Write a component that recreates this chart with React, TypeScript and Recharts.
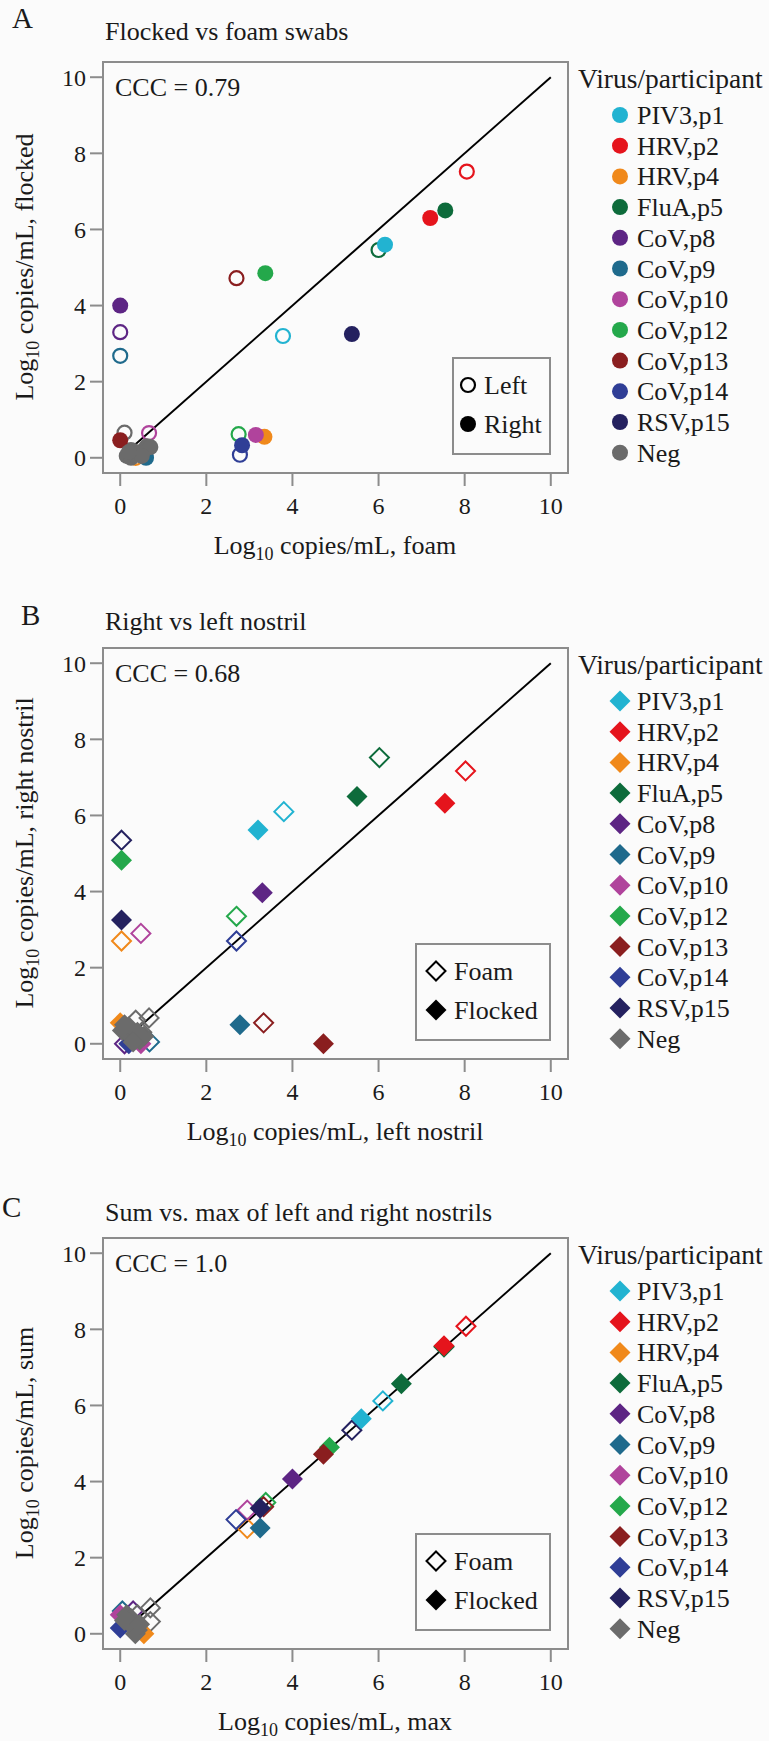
import { ScatterChart, Scatter, XAxis, YAxis, ReferenceLine, ReferenceArea } from 'recharts';

const FONT = "'Liberation Serif', 'Times New Roman', serif";
const INK = '#1a1a1a';
const FRAME = '#8c8c8c';
const BG = '#fbfbfb';

// legend order = drawing order (Neg last, so it sits on top of the cluster near 0)
const GROUPS = [
    'PIV3,p1', 'HRV,p2', 'HRV,p4', 'FluA,p5', 'CoV,p8', 'CoV,p9',
    'CoV,p10', 'CoV,p12', 'CoV,p13', 'CoV,p14', 'RSV,p15', 'Neg',
];
const COLORS = [
    '#22b3d1', '#e5141c', '#f0891b', '#0d6b3b', '#5d2584', '#1f6a8c',
    '#b0439c', '#24a84b', '#8a1e1f', '#2f3e96', '#24215f', '#6b6b6b',
];
const AXIS_TICKS = [0, 2, 4, 6, 8, 10];

type Pt = [string, number, number];

// A: x = foam, y = flocked
const foamFlockedLeft: Pt[] = [
    ['PIV3,p1', 3.78, 3.2], ['HRV,p2', 8.05, 7.52], ['HRV,p4', 0.36, 0.0],
    ['FluA,p5', 6.0, 5.46], ['CoV,p8', 0.0, 3.3], ['CoV,p9', 0.0, 2.68],
    ['CoV,p10', 0.67, 0.65], ['CoV,p12', 2.75, 0.62], ['CoV,p13', 2.7, 4.72],
    ['CoV,p14', 2.78, 0.08], ['RSV,p15', 0.3, 0.1],
    ['Neg', 0.1, 0.66], ['Neg', 0.25, 0.2], ['Neg', 0.45, 0.1], ['Neg', 0.6, 0.25],
];
const foamFlockedRight: Pt[] = [
    ['PIV3,p1', 6.15, 5.6], ['HRV,p2', 7.2, 6.3], ['HRV,p4', 3.35, 0.55],
    ['FluA,p5', 7.55, 6.5], ['CoV,p8', 0.0, 4.0], ['CoV,p9', 0.6, 0.0],
    ['CoV,p10', 3.15, 0.6], ['CoV,p12', 3.37, 4.85], ['CoV,p13', 0.0, 0.46],
    ['CoV,p14', 2.83, 0.33], ['RSV,p15', 5.38, 3.25],
    ['Neg', 0.15, 0.05], ['Neg', 0.25, 0.0], ['Neg', 0.35, 0.08], ['Neg', 0.45, 0.12],
    ['Neg', 0.55, 0.2], ['Neg', 0.62, 0.3], ['Neg', 0.7, 0.28], ['Neg', 0.3, 0.18],
    ['Neg', 0.5, 0.05], ['Neg', 0.2, 0.15],
];

// B: x = left nostril, y = right nostril
const leftRightFoam: Pt[] = [
    ['PIV3,p1', 3.8, 6.1], ['HRV,p2', 8.02, 7.17], ['HRV,p4', 0.03, 2.7],
    ['FluA,p5', 6.02, 7.52], ['CoV,p8', 0.1, 0.0], ['CoV,p9', 0.68, 0.05],
    ['CoV,p10', 0.48, 2.9], ['CoV,p12', 2.7, 3.35], ['CoV,p13', 3.33, 0.55],
    ['CoV,p14', 2.7, 2.7], ['RSV,p15', 0.03, 5.35],
    ['Neg', 0.36, 0.62], ['Neg', 0.67, 0.68], ['Neg', 0.5, 0.3],
];
const leftRightFlocked: Pt[] = [
    ['PIV3,p1', 3.2, 5.62], ['HRV,p2', 7.54, 6.32], ['HRV,p4', 0.0, 0.55],
    ['FluA,p5', 5.5, 6.5], ['CoV,p8', 3.3, 3.97], ['CoV,p9', 2.78, 0.5],
    ['CoV,p10', 0.48, 0.0], ['CoV,p12', 0.03, 4.82], ['CoV,p13', 4.72, 0.0],
    ['CoV,p14', 0.2, 0.0], ['RSV,p15', 0.03, 3.25],
    ['Neg', 0.05, 0.35], ['Neg', 0.15, 0.3], ['Neg', 0.25, 0.25], ['Neg', 0.35, 0.15],
    ['Neg', 0.45, 0.1], ['Neg', 0.55, 0.2], ['Neg', 0.2, 0.45], ['Neg', 0.1, 0.5],
    ['Neg', 0.4, 0.3], ['Neg', 0.3, 0.05],
];

// C: x = max, y = sum of both nostrils
const maxSumFoam: Pt[] = [
    ['PIV3,p1', 6.1, 6.12], ['HRV,p2', 8.03, 8.08], ['HRV,p4', 2.95, 2.77],
    ['FluA,p5', 7.52, 7.54], ['CoV,p8', 0.3, 0.6], ['CoV,p9', 0.05, 0.6],
    ['CoV,p10', 2.95, 3.25], ['CoV,p12', 3.38, 3.45], ['CoV,p13', 3.33, 3.34],
    ['CoV,p14', 2.69, 3.0], ['RSV,p15', 5.38, 5.35],
    ['Neg', 0.7, 0.68], ['Neg', 0.7, 0.32], ['Neg', 0.4, 0.5],
];
const maxSumFlocked: Pt[] = [
    ['PIV3,p1', 5.6, 5.65], ['HRV,p2', 7.52, 7.57], ['HRV,p4', 0.55, 0.0],
    ['FluA,p5', 6.53, 6.57], ['CoV,p8', 4.0, 4.07], ['CoV,p9', 3.25, 2.78],
    ['CoV,p10', 0.0, 0.5], ['CoV,p12', 4.86, 4.9], ['CoV,p13', 4.72, 4.72],
    ['CoV,p14', 0.0, 0.15], ['RSV,p15', 3.25, 3.3],
    ['Neg', 0.15, 0.5], ['Neg', 0.25, 0.4], ['Neg', 0.3, 0.2], ['Neg', 0.4, 0.1],
    ['Neg', 0.35, 0.0], ['Neg', 0.2, 0.3], ['Neg', 0.1, 0.35], ['Neg', 0.45, 0.25],
];

type Kind = 'circle' | 'diamond';

interface PanelSpec {
    top: number;
    letter: string;
    letterX: number;
    letterY: number;
    titleY: number;
    title: string;
    ccc: string;
    xLabel: string;
    yLabel: string;
    kind: Kind;
    keys: [string, string];
    open: Pt[];
    filled: Pt[];
}

const PANELS: PanelSpec[] = [
    {
        top: 0, letter: 'A', letterX: 12, letterY: 28, titleY: 40,
        title: 'Flocked vs foam swabs', ccc: 'CCC = 0.79',
        xLabel: 'foam', yLabel: 'flocked', kind: 'circle', keys: ['Left', 'Right'],
        open: foamFlockedLeft, filled: foamFlockedRight,
    },
    {
        top: 586, letter: 'B', letterX: 21, letterY: 39, titleY: 44,
        title: 'Right vs left nostril', ccc: 'CCC = 0.68',
        xLabel: 'left nostril', yLabel: 'right nostril', kind: 'diamond', keys: ['Foam', 'Flocked'],
        open: leftRightFoam, filled: leftRightFlocked,
    },
    {
        top: 1176, letter: 'C', letterX: 2, letterY: 41, titleY: 45,
        title: 'Sum vs. max of left and right nostrils', ccc: 'CCC = 1.0',
        xLabel: 'max', yLabel: 'sum', kind: 'diamond', keys: ['Foam', 'Flocked'],
        open: maxSumFoam, filled: maxSumFlocked,
    },
];

function Marker({ kind, open, color, cx, cy }: { kind: Kind; open: boolean; color: string; cx: number; cy: number }) {
    if (kind === 'circle') {
        return open
            ? <circle cx={cx} cy={cy} r={7} fill="none" stroke={color} strokeWidth={2.2} />
            : <circle cx={cx} cy={cy} r={8} fill={color} />;
    }
    const h = open ? 9.5 : 10.5;
    const d = `M${cx},${cy - h}L${cx + h},${cy}L${cx},${cy + h}L${cx - h},${cy}Z`;
    return open
        ? <path d={d} fill="none" stroke={color} strokeWidth={2} />
        : <path d={d} fill={color} />;
}

function makeShape(kind: Kind, open: boolean, color: string) {
    return (props: any) => {
        const { cx, cy } = props;
        if (cx == null || cy == null) return <g />;
        return <Marker kind={kind} open={open} color={color} cx={cx} cy={cy} />;
    };
}

function LogLabel({ rest }: { rest: string }) {
    return (
        <>
            <tspan>Log</tspan>
            <tspan fontSize={18} dy={6}>10</tspan>
            <tspan dy={-6}>{` copies/mL, ${rest}`}</tspan>
        </>
    );
}

function Panel({ spec }: { spec: PanelSpec }) {
    const series: { key: string; data: { x: number; y: number }[]; open: boolean; color: string }[] = [];
    [true, false].forEach((open) => {
        const pts = open ? spec.open : spec.filled;
        GROUPS.forEach((g, i) => {
            const data = pts.filter((p) => p[0] === g).map(([, x, y]) => ({ x, y }));
            if (data.length) series.push({ key: `${open ? 'o' : 'f'}-${g}`, data, open, color: COLORS[i] });
        });
    });

    const keyBoxX = spec.kind === 'circle' ? 453 : 416;
    const keyMarkX = spec.kind === 'circle' ? 468 : 436;
    const keyTextX = spec.kind === 'circle' ? 484 : 454;

    return (
        <div style={{ position: 'absolute', left: 0, top: spec.top, width: 769, height: 587 }}>
            <ScatterChart width={769} height={587} margin={{ top: 62, right: 201, bottom: 0, left: 0 }}>
                <XAxis
                    type="number"
                    dataKey="x"
                    domain={[-0.4, 10.4]}
                    ticks={AXIS_TICKS}
                    allowDataOverflow
                    height={114}
                    axisLine={false}
                    tickSize={13}
                    tickMargin={11}
                    tickLine={{ stroke: FRAME, strokeWidth: 2 }}
                    tick={{ fontSize: 24, fill: INK, fontFamily: FONT }}
                />
                <YAxis
                    type="number"
                    dataKey="y"
                    domain={[-0.4, 10.4]}
                    ticks={AXIS_TICKS}
                    allowDataOverflow
                    width={103}
                    axisLine={false}
                    tickSize={13}
                    tickMargin={4}
                    tickLine={{ stroke: FRAME, strokeWidth: 2 }}
                    tick={{ fontSize: 24, fill: INK, fontFamily: FONT }}
                />
                <ReferenceArea x1={-0.4} x2={10.4} y1={-0.4} y2={10.4} fill="none" stroke={FRAME} strokeWidth={2} fillOpacity={0} />
                <ReferenceLine segment={[{ x: 0, y: 0 }, { x: 10, y: 10 }]} stroke="#000" strokeWidth={2} />
                {series.map((s) => (
                    <Scatter
                        key={s.key}
                        name={s.key}
                        data={s.data}
                        isAnimationActive={false}
                        shape={makeShape(spec.kind, s.open, s.color)}
                    />
                ))}
            </ScatterChart>

            {/* annotations: panel letter, titles, legends */}
            <svg
                width={769}
                height={587}
                style={{ position: 'absolute', left: 0, top: 0, pointerEvents: 'none' }}
                fontFamily={FONT}
                fill={INK}
            >
                <text x={spec.letterX} y={spec.letterY} fontSize={29}>{spec.letter}</text>
                <text x={105} y={spec.titleY} fontSize={26}>{spec.title}</text>
                <text x={115} y={96} fontSize={26}>{spec.ccc}</text>

                <text x={335} y={554} fontSize={26} textAnchor="middle">
                    <LogLabel rest={spec.xLabel} />
                </text>
                <text transform="translate(33,267) rotate(-90)" fontSize={26} textAnchor="middle">
                    <LogLabel rest={spec.yLabel} />
                </text>

                <text x={578} y={88} fontSize={27.5}>Virus/participant</text>
                {GROUPS.map((g, i) => {
                    const cy = 115 + i * 30.7;
                    return (
                        <g key={g}>
                            <Marker kind={spec.kind} open={false} color={COLORS[i]} cx={620} cy={cy} />
                            <text x={637} y={cy + 9} fontSize={26}>{g}</text>
                        </g>
                    );
                })}

                <rect x={keyBoxX} y={358} width={550 - keyBoxX} height={96} fill={BG} stroke={FRAME} strokeWidth={2} />
                {spec.keys.map((k, i) => {
                    const cy = 385 + i * 39;
                    return (
                        <g key={k}>
                            <Marker kind={spec.kind} open={i === 0} color="#000" cx={keyMarkX} cy={cy} />
                            <text x={keyTextX} y={cy + 9} fontSize={26}>{k}</text>
                        </g>
                    );
                })}
            </svg>
        </div>
    );
}

export default function App() {
    return (
        <div
            style={{
                position: 'absolute',
                left: 0,
                top: 0,
                width: 769,
                height: 1741,
                overflow: 'hidden',
                background: BG,
            }}
        >
            {PANELS.map((p) => (
                <Panel key={p.letter} spec={p} />
            ))}
        </div>
    );
}
